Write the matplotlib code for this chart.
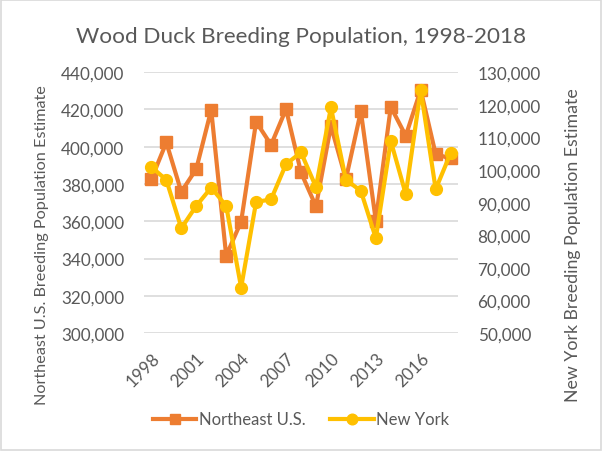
import matplotlib.pyplot as plt
from matplotlib.patches import Rectangle
from matplotlib.ticker import FuncFormatter

# data
years = list(range(1998, 2019))
northeast = [382600, 402300, 375800, 388000, 419800, 341500, 359800, 413400, 401000, 420200,
             386200, 368000, 411200, 382600, 419000, 360300, 421400, 405900, 430500, 396000, 393700]
new_york = [100960, 96970, 82150, 89000, 94600, 89000, 63960, 90200, 91000, 101800,
            105400, 94800, 119200, 97000, 93600, 79100, 108900, 92600, 124600, 94100, 105200]

orange = '#ED7D31'
yellow = '#FFC000'
grey_text = '#595959'
grid_col = '#D9D9D9'

plt.rcParams['font.family'] = ['Lato', 'DejaVu Sans']

fig = plt.figure(figsize=(6.02, 4.52), dpi=100)
fig.patches.append(Rectangle((0.002, 0.002), 0.996, 0.996, transform=fig.transFigure,
                             fill=False, edgecolor=grid_col, linewidth=1.2))

ax = fig.add_axes([0.239, 0.261, 0.522, 0.577])
ax2 = ax.twinx()

x = list(range(len(years)))
l1, = ax.plot(x, northeast, color=orange, lw=3, marker='s', ms=8.5, label='Northeast U.S.', zorder=3)
l2, = ax2.plot(x, new_york, color=yellow, lw=3, marker='o', ms=8.5, label='New York', zorder=3)

ax.set_ylim(300000, 440000)
ax.set_yticks(range(300000, 440001, 20000))
ax2.set_ylim(50000, 130000)
ax2.set_yticks(range(50000, 130001, 10000))
fmt = FuncFormatter(lambda v, p: f'{int(v):,}')
ax.yaxis.set_major_formatter(fmt)
ax2.yaxis.set_major_formatter(fmt)

ax.set_xlim(-0.5, len(years) - 0.5)
ax.set_xticks(x[::3])
ax.set_xticklabels([str(y) for y in years[::3]], rotation=45, ha='right', va='top',
                   rotation_mode='anchor')

ax.grid(axis='y', color=grid_col, lw=1.2)
ax.set_axisbelow(True)
for a in (ax, ax2):
    for s in a.spines.values():
        s.set_visible(False)
    a.tick_params(length=0, colors=grey_text, labelsize=12.3)
ax.tick_params(axis='y', pad=14)
ax2.tick_params(axis='y', pad=14)
ax.tick_params(axis='x', pad=12)

# axis titles sit lower than the plot centre, as in the original
fig.text(0.070, 0.458, 'Northeast U.S. Breeding Population Estimate', color=grey_text,
         fontsize=11.7, rotation=90, ha='center', va='center')
fig.text(0.952, 0.458, 'New York Breeding Population Estimate', color=grey_text,
         fontsize=12.8, rotation=90, ha='center', va='center')

fig.suptitle('Wood Duck Breeding Population, 1998-2018', color=grey_text, fontsize=16.2, y=0.94)

fig.legend(handles=[l1, l2], loc='center', bbox_to_anchor=(0.5, 0.07), ncol=2, frameon=False,
           fontsize=12, labelcolor=grey_text, handlelength=2.6, columnspacing=1.5,
           handletextpad=0.15, markerscale=0.9)

fig.savefig('out.png', dpi=100)
